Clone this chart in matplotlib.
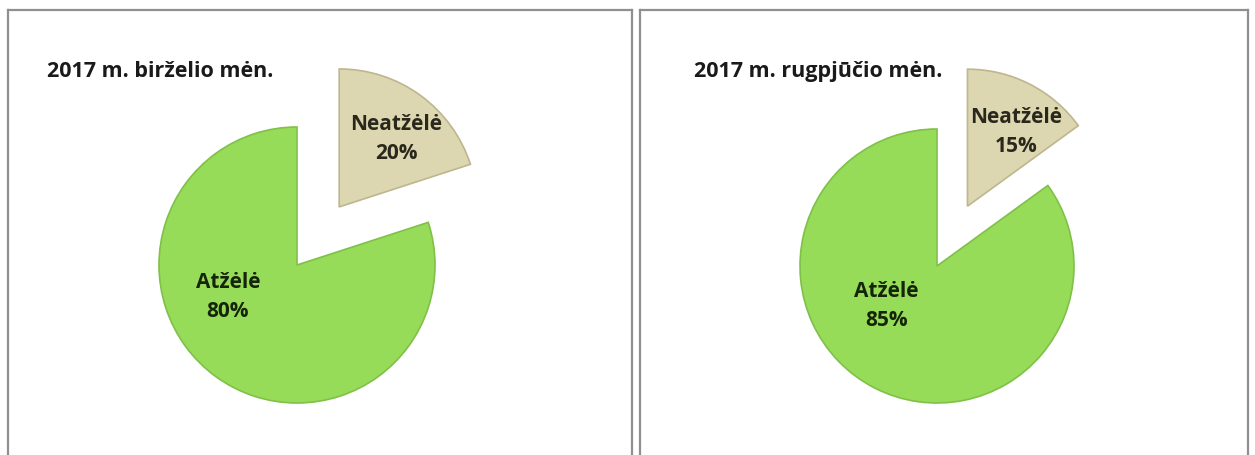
import matplotlib
matplotlib.use("Agg")
import matplotlib.pyplot as plt

plt.rcParams["font.family"] = ["Open Sans", "DejaVu Sans"]

categories = ["Neatžėlė", "Atžėlė"]
june_values = [20, 80]
august_values = [15, 85]
titles = ["2017 m. birželio mėn.", "2017 m. rugpjūčio mėn."]

W, H = 1255, 455
colors = ["#DCD7B0", "#96DC58"]
edge_colors = ["#BDB68E", "#80C048"]
text_colors = ["#2A281C", "#16250A"]


def panel(fig, left, top, width, cx, cy, radius):
    height = H - top
    ax = fig.add_axes([left / W, 0, width / W, height / H])
    ax.set_xlim(-(cx - left) / radius, (left + width - cx) / radius)
    ax.set_ylim(-(top + height - cy) / radius, (cy - top) / radius)
    ax.set_xticks([]); ax.set_yticks([])
    for side in ["left", "right", "top"]:
        ax.spines[side].set_color("#8F8F8F")
        ax.spines[side].set_linewidth(1.6)
    ax.spines["bottom"].set_visible(False)
    return ax


def draw_pie(ax, values, title, title_x, explode, label_pos):
    wedges, _ = ax.pie(values, startangle=90, counterclock=False,
                       colors=colors, explode=[explode, 0], radius=1.0,
                       wedgeprops=dict(linewidth=1.2), frame=True)
    for w, ec in zip(wedges, edge_colors):
        w.set_edgecolor(ec)
    ax.set_aspect("auto")
    for name, v, (x, y), tc in zip(categories, values, label_pos, text_colors):
        ax.text(x, y, f"{name}\n{v}%", ha="center", va="center",
                fontsize=15, fontweight="bold", color=tc, linespacing=1.5)
    ax.text(title_x, 0.861, title, transform=ax.transAxes, ha="left",
            va="center", fontsize=15.5, fontweight="bold", color="#1A1A1A")


fig = plt.figure(figsize=(W / 100, H / 100), dpi=100)

ax1 = panel(fig, 8, 10, 624, 297, 265, 138)
draw_pie(ax1, june_values, titles[0], 39 / 624, 0.52,
         [(0.72, 0.91), (-0.50, -0.23)])

ax2 = panel(fig, 640, 10, 608, 937, 266, 137)
draw_pie(ax2, august_values, titles[1], 54 / 608, 0.49,
         [(0.58, 0.98), (-0.37, -0.29)])

fig.savefig("out.png", dpi=100)
